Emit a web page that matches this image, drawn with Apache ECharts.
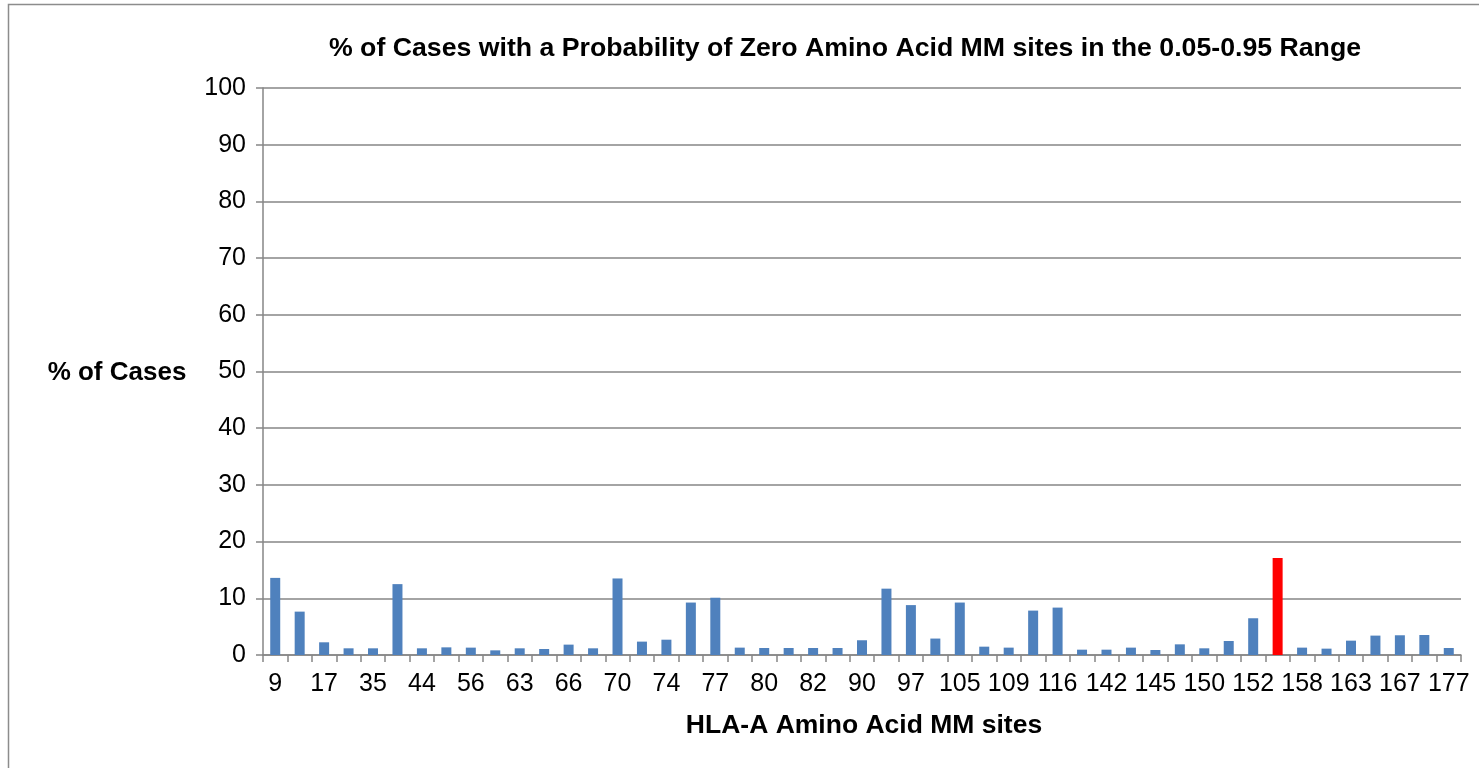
<!DOCTYPE html>
<html>
<head>
<meta charset="utf-8">
<script src="https://cdn.jsdelivr.net/npm/echarts@6/dist/echarts.min.js"></script>
<style>
html,body{margin:0;padding:0;background:#fff;}
#chart{width:1479px;height:768px;}
</style>
</head>
<body>
<div id="chart"></div>
<script>
const titleText = '% of Cases with a Probability of Zero Amino Acid MM sites in the 0.05-0.95 Range';
const xAxisTitle = 'HLA-A Amino Acid MM sites';
const yAxisTitle = '% of Cases';
const sites = ['9','12','17','31','35','43','44','45','56','62','63','65','66','67','70','73','74','76','77','79','80','81','82','83','90','95','97','99','105','107','109','114','116','127','142','144','145','149','150','151','152','156','158','161','163','166','167','171','177'];
const percentCases = [13.6,7.65,2.24,1.18,1.18,12.5,1.18,1.35,1.3,0.82,1.18,1.06,1.83,1.18,13.5,2.36,2.7,9.25,10.1,1.3,1.24,1.24,1.24,1.24,2.6,11.7,8.8,2.9,9.25,1.47,1.3,7.83,8.36,0.94,0.94,1.3,0.88,1.88,1.18,2.47,6.48,17.1,1.3,1.12,2.53,3.42,3.48,3.53,1.24];
const highlightSite = '156';
const yTicks = {min:0, max:100, interval:10};

const chart = echarts.init(document.getElementById('chart'));
const FONT = '"Liberation Sans", Arial, sans-serif';
chart.setOption({
  animation:false,
  backgroundColor:'#fff',
  graphic:[
    {type:'rect', shape:{x:8.5,y:4.5,width:1600,height:900}, style:{fill:'none',stroke:'#8c8c8c',lineWidth:1.5}, z:-1},
    {type:'text', x:845, y:49, style:{text:titleText, font:'bold 26.7px '+FONT, fill:'#000', textAlign:'center', textVerticalAlign:'middle'}},
    {type:'text', x:117, y:373, style:{text:yAxisTitle, font:'bold 26px '+FONT, fill:'#000', textAlign:'center', textVerticalAlign:'middle'}},
    {type:'text', x:864, y:726, style:{text:xAxisTitle, font:'bold 26.5px '+FONT, fill:'#000', textAlign:'center', textVerticalAlign:'middle'}}
  ],
  grid:{left:263, right:18, top:88, bottom:113},
  xAxis:{
    type:'category', data:sites, boundaryGap:true,
    axisLine:{lineStyle:{color:'#868686', width:1.5}},
    axisTick:{show:true, interval:0, length:7, lineStyle:{color:'#868686', width:1.5}},
    axisLabel:{interval:1, color:'#000', fontSize:25, fontFamily:FONT, margin:17}
  },
  yAxis:{
    type:'value', min:yTicks.min, max:yTicks.max, interval:yTicks.interval,
    axisLine:{show:true, lineStyle:{color:'#868686', width:1.5}},
    axisTick:{show:true, length:7, lineStyle:{color:'#868686', width:1.5}},
    axisLabel:{color:'#000', fontSize:25, fontFamily:FONT, margin:17},
    splitLine:{lineStyle:{color:'#868686', width:1.5}}
  },
  series:[{
    type:'bar', barWidth:10,
    data:percentCases.map((v,i)=>({value:v, itemStyle:{color: sites[i]===highlightSite ? '#ff0000' : '#4f81bd'}}))
  }]
});
</script>
</body>
</html>
